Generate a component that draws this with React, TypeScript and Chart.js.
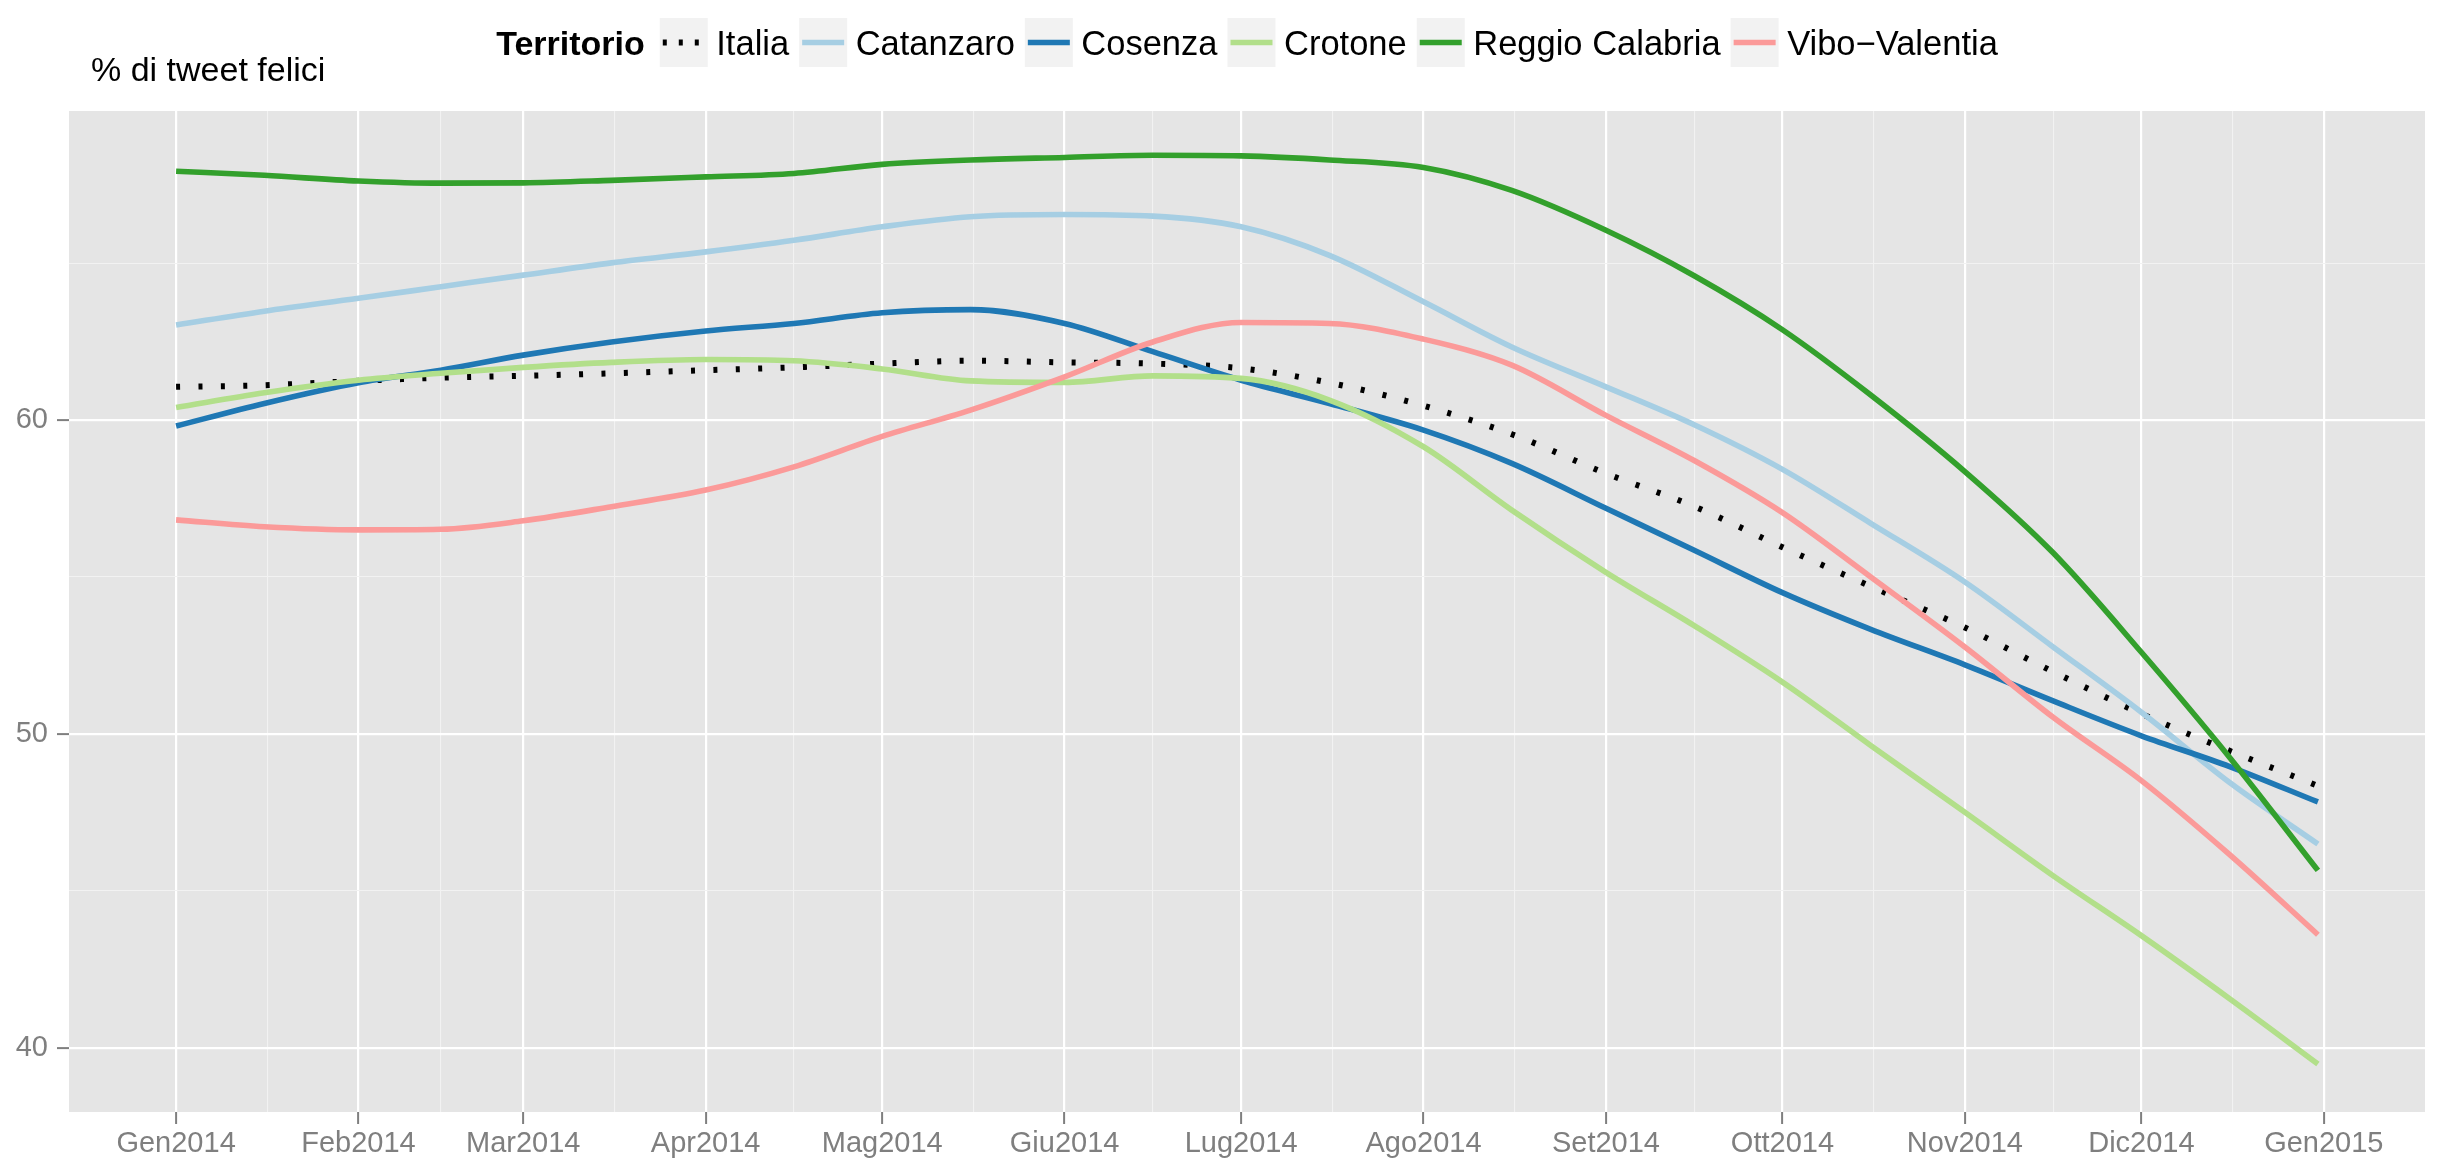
import React, { useEffect, useRef } from 'react';
import { Chart, registerables } from 'chart.js';

Chart.register(...registerables);

// ---- data ----
const categories = ['Italia', 'Catanzaro', 'Cosenza', 'Crotone', 'Reggio Calabria', 'Vibo\u2212Valentia'];
const legendTitle = 'Territorio';
const yAxisTitle = '% di tweet felici';

// day of year (0 = 1 Jan 2014)
const days = [0, 15, 31, 45, 59, 74, 90, 105, 120, 135, 151, 166, 181, 196, 212, 227, 243, 258, 273, 288, 304, 319, 334, 349, 364];

const italia = [61.06, 61.11, 61.25, 61.35, 61.41, 61.49, 61.59, 61.68, 61.8, 61.89, 61.84, 61.8, 61.65, 61.19, 60.46, 59.55, 58.3, 57.25, 55.95, 54.7, 53.39, 51.98, 50.64, 49.46, 48.34];
const catanzaro = [63.03, 63.47, 63.88, 64.25, 64.62, 65.01, 65.36, 65.73, 66.16, 66.48, 66.55, 66.5, 66.16, 65.25, 63.77, 62.33, 61.06, 59.85, 58.43, 56.71, 54.84, 52.77, 50.69, 48.45, 46.49];
const cosenza = [59.81, 60.53, 61.19, 61.59, 62.07, 62.49, 62.84, 63.08, 63.42, 63.52, 63.08, 62.18, 61.27, 60.53, 59.68, 58.62, 57.19, 55.85, 54.5, 53.33, 52.2, 51.05, 49.94, 48.96, 47.83];
const crotone = [60.4, 60.87, 61.27, 61.49, 61.68, 61.84, 61.93, 61.89, 61.63, 61.25, 61.2, 61.41, 61.33, 60.64, 59.15, 57.13, 55.15, 53.45, 51.65, 49.63, 47.5, 45.48, 43.57, 41.56, 39.48];
const reggio = [67.93, 67.8, 67.62, 67.55, 67.56, 67.64, 67.75, 67.86, 68.15, 68.29, 68.37, 68.44, 68.42, 68.29, 68.05, 67.32, 66.05, 64.6, 62.88, 60.8, 58.36, 55.77, 52.6, 49.25, 45.65];
const vibo = [56.82, 56.6, 56.5, 56.52, 56.79, 57.24, 57.77, 58.51, 59.48, 60.32, 61.38, 62.49, 63.11, 63.08, 62.58, 61.75, 60.15, 58.71, 57.05, 55.0, 52.77, 50.53, 48.51, 46.15, 43.6];

const seriesValues = [italia, catanzaro, cosenza, crotone, reggio, vibo];
const seriesColors = ['#000000', '#A6CEE3', '#1F78B4', '#B2DF8A', '#33A02C', '#FB9A99'];

const monthTickDays = [0, 31, 59, 90, 120, 151, 181, 212, 243, 273, 304, 334, 365];
const monthLabels = ['Gen2014', 'Feb2014', 'Mar2014', 'Apr2014', 'Mag2014', 'Giu2014', 'Lug2014', 'Ago2014', 'Set2014', 'Ott2014', 'Nov2014', 'Dic2014', 'Gen2015'];
const yMajorTicks = [40, 50, 60];
const yMinorTicks = [45, 55, 65];

const FONT = '"Liberation Sans", Arial, Helvetica, sans-serif';

export default function App() {
  const ref = useRef<HTMLCanvasElement>(null);

  useEffect(() => {
    const canvas = ref.current;
    if (!canvas) return;

    const xMinor = monthTickDays.slice(0, -1).map((d, i) => (d + monthTickDays[i + 1]) / 2);
    const xTicks = [...monthTickDays, ...xMinor].sort((a, b) => a - b);
    const yTicks = [...yMajorTicks, ...yMinorTicks].sort((a, b) => a - b);
    const isMajorX = (v: any) => monthTickDays.includes(v);
    const isMajorY = (v: any) => yMajorTicks.includes(v);

    const decor = {
      id: 'ggDecor',
      beforeDraw(chart: any) {
        const { ctx, chartArea: a } = chart;
        ctx.save();
        ctx.fillStyle = '#FFFFFF';
        ctx.fillRect(0, 0, chart.width, chart.height);
        ctx.fillStyle = '#E5E5E5';
        ctx.fillRect(a.left, a.top, a.right - a.left, a.bottom - a.top);
        ctx.restore();
      },
      afterDraw(chart: any) {
        const { ctx, chartArea: a } = chart;
        const ds = chart.data.datasets;
        ctx.save();
        ctx.textAlign = 'left';
        ctx.textBaseline = 'alphabetic';
        ctx.fillStyle = '#000000';
        ctx.font = `34px ${FONT}`;
        ctx.fillText(yAxisTitle, 91, 81);

        // legend
        ctx.font = `bold 34px ${FONT}`;
        const tw = ctx.measureText(legendTitle).width;
        ctx.font = `34.5px ${FONT}`;
        const lws = ds.map((d: any) => ctx.measureText(d.label).width);
        const KEY = 48, G1 = 8.5, G2 = 10, GT = 15;
        const total = tw + GT + lws.reduce((s: number, w: number) => s + KEY + G1 + w, 0) + G2 * (ds.length - 1);
        let x = (a.left + a.right) / 2 - total / 2;
        ctx.font = `bold 34px ${FONT}`;
        ctx.fillText(legendTitle, x, 55);
        x += tw + GT;
        ctx.font = `34.5px ${FONT}`;
        ds.forEach((d: any, i: number) => {
          ctx.fillStyle = '#F2F2F2';
          ctx.fillRect(x, 18, KEY, 49);
          ctx.beginPath();
          ctx.strokeStyle = d.borderColor;
          ctx.lineWidth = d.borderWidth;
          ctx.lineCap = 'butt';
          ctx.setLineDash(d.borderDash && d.borderDash.length ? [4, 12] : []);
          ctx.moveTo(x + 3, 42.5);
          ctx.lineTo(x + KEY - 3, 42.5);
          ctx.stroke();
          ctx.setLineDash([]);
          ctx.fillStyle = '#000000';
          ctx.fillText(d.label, x + KEY + G1, 55);
          x += KEY + G1 + lws[i] + G2;
        });
        ctx.restore();
      },
    };

    const chart = new Chart(canvas, {
      type: 'line',
      data: {
        datasets: categories.map((name, i) => ({
          label: name,
          data: days.map((d, j) => ({ x: d, y: seriesValues[i][j] })),
          borderColor: seriesColors[i],
          backgroundColor: seriesColors[i],
          borderWidth: i === 0 ? 6 : 5.6,
          borderDash: i === 0 ? [4, 18.4] : [],
          borderCapStyle: 'butt',
          pointRadius: 0,
          pointHoverRadius: 0,
          fill: false,
          cubicInterpolationMode: 'monotone',
          order: categories.length - i,
        })),
      },
      options: {
        animation: false,
        responsive: false,
        devicePixelRatio: 1,
        events: [],
        layout: { padding: { top: 111, right: 22, left: 0, bottom: 0 } },
        plugins: {
          legend: { display: false },
          tooltip: { enabled: false },
          title: { display: false },
        },
        scales: {
          x: {
            type: 'linear',
            min: -18.2,
            max: 382.2,
            afterBuildTicks: (s: any) => {
              s.ticks = xTicks.map((v) => ({ value: v }));
            },
            afterFit: (s: any) => {
              s.height = 53;
            },
            border: { display: false },
            grid: {
              color: (c: any) => (isMajorX(c.tick && c.tick.value) ? '#FFFFFF' : '#F2F2F2'),
              lineWidth: (c: any) => (isMajorX(c.tick && c.tick.value) ? 2.2 : 1.1),
              tickColor: (c: any) => (isMajorX(c.tick && c.tick.value) ? '#7F7F7F' : 'rgba(0,0,0,0)'),
              tickWidth: 2,
              tickLength: 12,
              drawTicks: true,
            },
            ticks: {
              autoSkip: false,
              maxRotation: 0,
              minRotation: 0,
              padding: 3,
              color: '#7F7F7F',
              font: { family: FONT, size: 29 },
              callback: (v: any) => {
                const k = monthTickDays.indexOf(v);
                return k >= 0 ? monthLabels[k] : '';
              },
            },
          },
          y: {
            type: 'linear',
            min: 37.95,
            max: 69.85,
            afterBuildTicks: (s: any) => {
              s.ticks = yTicks.map((v) => ({ value: v }));
            },
            afterFit: (s: any) => {
              s.width = 69;
            },
            border: { display: false },
            grid: {
              color: (c: any) => (isMajorY(c.tick && c.tick.value) ? '#FFFFFF' : '#F2F2F2'),
              lineWidth: (c: any) => (isMajorY(c.tick && c.tick.value) ? 2.2 : 1.1),
              tickColor: (c: any) => (isMajorY(c.tick && c.tick.value) ? '#7F7F7F' : 'rgba(0,0,0,0)'),
              tickWidth: 2,
              tickLength: 12,
              drawTicks: true,
            },
            ticks: {
              autoSkip: false,
              padding: 9,
              color: '#7F7F7F',
              font: { family: FONT, size: 29 },
              callback: (v: any) => (isMajorY(v) ? String(v) : ''),
            },
          },
        },
      },
      plugins: [decor],
    } as any);

    return () => {
      chart.destroy();
    };
  }, []);

  return (
    <div style={{ position: 'absolute', left: 0, top: 0, width: 2447, height: 1165, background: '#FFFFFF' }}>
      <canvas ref={ref} width={2447} height={1165} style={{ display: 'block', width: 2447, height: 1165 }} />
    </div>
  );
}
